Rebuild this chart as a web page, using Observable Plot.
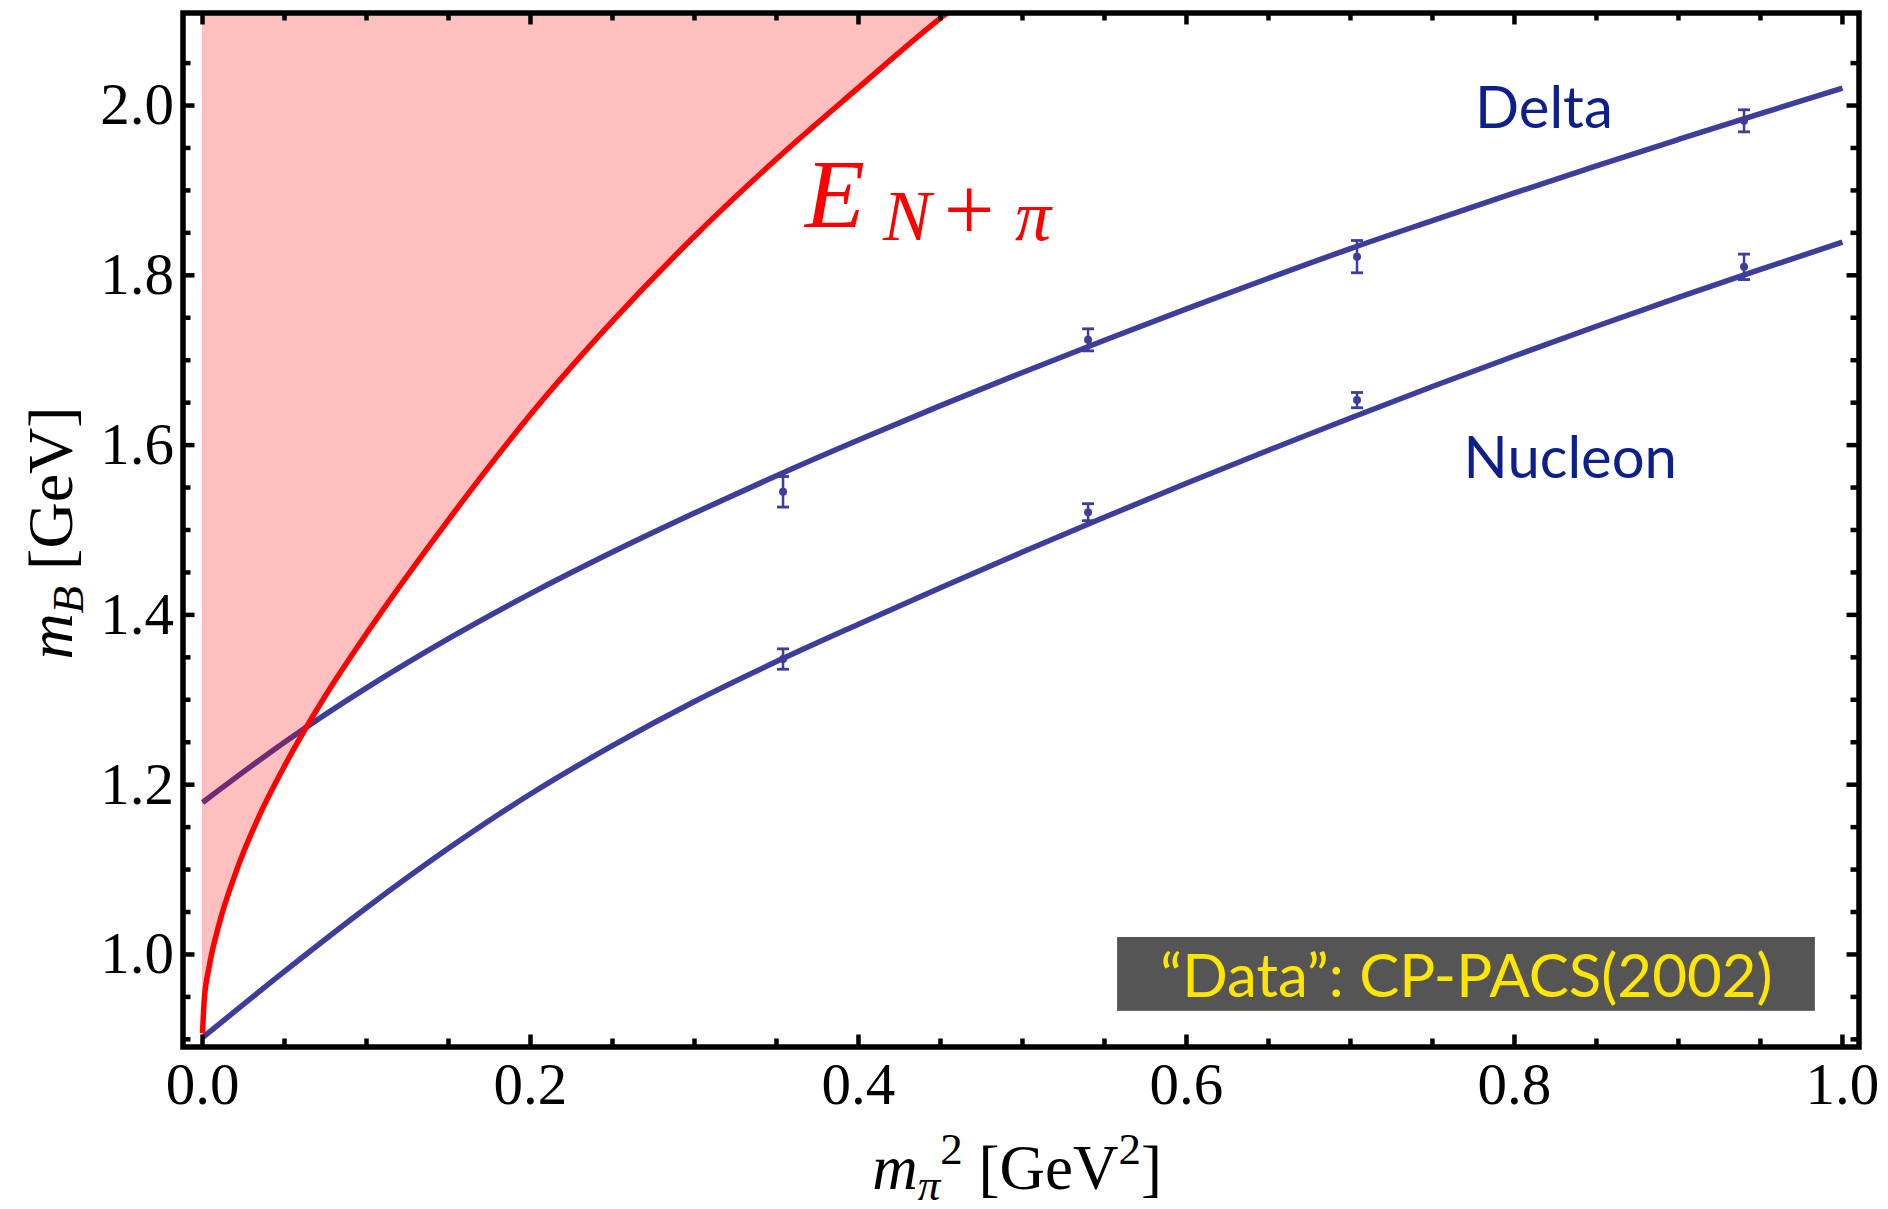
<!DOCTYPE html>
<html>
<head>
<meta charset="utf-8">
<script src="https://cdn.jsdelivr.net/npm/d3@7"></script>
<script src="https://cdn.jsdelivr.net/npm/@observablehq/plot@0.6"></script>
<style>
  html, body { margin: 0; padding: 0; background: #ffffff; }
  #chart svg { display: block; }
</style>
</head>
<body>
<div id="chart"></div>
<script>
// ---------- data ----------
const fitX = [0, 0.05, 0.10, 0.15, 0.20, 0.25, 0.30, 0.35, 0.40, 0.45, 0.50,
              0.55, 0.60, 0.65, 0.70, 0.75, 0.80, 0.85, 0.90, 0.95, 1.00];
const nucleonFit = [0.902, 0.980, 1.055, 1.125, 1.189, 1.246, 1.298, 1.345, 1.389, 1.432, 1.474,
                    1.515, 1.555, 1.594, 1.632, 1.669, 1.705, 1.740, 1.774, 1.807, 1.839];
const deltaFit = [1.179, 1.250, 1.314, 1.372, 1.425, 1.474, 1.520, 1.564, 1.606, 1.6465, 1.6855,
                  1.7235, 1.7605, 1.7965, 1.8315, 1.8645, 1.897, 1.929, 1.960, 1.9905, 2.0205];

const thresholdX = [0, 0.001, 0.004, 0.01, 0.02, 0.035, 0.05, 0.075, 0.10, 0.15, 0.20, 0.25, 0.30, 0.35, 0.40, 0.45, 0.46];
const thresholdY = [0.907, 0.945, 0.985, 1.035, 1.095, 1.165, 1.222, 1.305, 1.378, 1.512, 1.636, 1.746, 1.846, 1.937, 2.021, 2.103, 2.118];

const latticeX = [0.354, 0.540, 0.704, 0.940];
const deltaMass = [1.545, 1.724, 1.822, 1.982];
const deltaErr = [0.018, 0.013, 0.019, 0.013];
const nucleonMass = [1.348, 1.521, 1.653, 1.810];
const nucleonErr = [0.012, 0.010, 0.009, 0.015];

const xMajorTicks = [0, 0.2, 0.4, 0.6, 0.8, 1.0];
const xMinorTicks = [0.05, 0.1, 0.15, 0.25, 0.3, 0.35, 0.45, 0.5, 0.55, 0.65, 0.7, 0.75, 0.85, 0.9, 0.95];
const yMajorTicks = [1.0, 1.2, 1.4, 1.6, 1.8, 2.0];
const yMinorTicks = [0.9, 0.95, 1.05, 1.1, 1.15, 1.25, 1.3, 1.35, 1.45, 1.5, 1.55, 1.65, 1.7, 1.75, 1.85, 1.9, 1.95, 2.05];

const seriesLabels = ["Delta", "Nucleon"];
const seriesLabelX = [0.776, 0.769];
const seriesLabelY = [1.974, 1.561];

const sourceNote = "\u201CData\u201D: CP-PACS(2002)";
const sourceBox = {x1: 0.558, x2: 0.9835, y1: 0.933, y2: 1.020};
const sourceTextPos = {x: 0.7707, y: 0.9500};
const thresholdLabelPos = {x: 0.386, y: 1.8563};

// ---------- layout / style ----------
const W = 1888, H = 1209;
const mL = 182.5, mR = 29.5, mT = 12.5, mB = 162.5;
const innerW = W - mL - mR, innerH = H - mT - mB;
const blue = "#3d3d9c";
const labelBlue = "#0c1f8c";
const serif = "'Liberation Serif', 'Times New Roman', serif";
const sans = "Lato, 'Open Sans', sans-serif";
const majorLen = 12, minorLen = 8;
const lineW = 5.5;

const fitRows = fitX.map((x, i) => ({x, nucleon: nucleonFit[i], delta: deltaFit[i]}));
const thresholdRows = thresholdX.map((x, i) => ({x, y: thresholdY[i]}));
const latticeRows = latticeX.flatMap((x, i) => [
  {series: "Delta", x, m: deltaMass[i], lo: deltaMass[i] - deltaErr[i], hi: deltaMass[i] + deltaErr[i]},
  {series: "Nucleon", x, m: nucleonMass[i], lo: nucleonMass[i] - nucleonErr[i], hi: nucleonMass[i] + nucleonErr[i]}
]);

const capSymbol = {
  draw(context, size) {
    const r = Math.sqrt(size / Math.PI);
    context.moveTo(-r, 0);
    context.lineTo(r, 0);
  }
};

function tickMarksX(values, len) {
  return [
    Plot.tickX(values, {x: d => d, insetTop: innerH - len, stroke: "black", strokeWidth: 4.5}),
    Plot.tickX(values, {x: d => d, insetBottom: innerH - len, stroke: "black", strokeWidth: 4.5})
  ];
}
function tickMarksY(values, len) {
  return [
    Plot.tickY(values, {y: d => d, insetRight: innerW - len, stroke: "black", strokeWidth: 4.5}),
    Plot.tickY(values, {y: d => d, insetLeft: innerW - len, stroke: "black", strokeWidth: 4.5})
  ];
}

// threshold label E_{N+π}
function thresholdLabel(index, scales) {
  const x0 = scales.x(thresholdLabelPos.x), y0 = scales.y(thresholdLabelPos.y);
  const g = d3.create("svg:g").attr("fill", "#ff0000").attr("font-family", serif);
  g.append("text").attr("x", x0).attr("y", y0).attr("font-size", 98).attr("font-style", "italic").text("E");
  const sub = g.append("text").attr("y", y0 + 13).attr("font-size", 72);
  sub.append("tspan").attr("x", x0 + 72).attr("font-style", "italic").text("N");
  sub.append("tspan").attr("x", x0 + 134).attr("font-size", 90).text("+");
  sub.append("tspan").attr("x", x0 + 198).attr("font-style", "italic").text("\u03C0");
  return g.node();
}

// axis titles
function axisTitles() {
  const g = d3.create("svg:g").attr("fill", "black").attr("font-family", serif);
  const yl = g.append("text")
    .attr("transform", "translate(72,533) rotate(-90)")
    .attr("text-anchor", "middle").attr("font-size", 64);
  yl.append("tspan").attr("font-style", "italic").text("m");
  yl.append("tspan").attr("font-style", "italic").attr("font-size", 45).attr("dy", 11).text("B");
  yl.append("tspan").attr("dy", -11).text("\u00A0[GeV]");

  const xl = g.append("text")
    .attr("x", 1017).attr("y", 1189)
    .attr("text-anchor", "middle").attr("font-size", 63);
  xl.append("tspan").attr("font-style", "italic").text("m");
  xl.append("tspan").attr("font-style", "italic").attr("font-size", 45).attr("dy", 11).text("\u03C0");
  xl.append("tspan").attr("font-size", 45).attr("dy", -36).text("2");
  xl.append("tspan").attr("dy", 25).text("\u00A0[GeV");
  xl.append("tspan").attr("font-size", 45).attr("dy", -25).text("2");
  xl.append("tspan").attr("dy", 25).text("]");
  return g.node();
}

const chart = Plot.plot({
  width: W,
  height: H,
  marginLeft: mL,
  marginRight: mR,
  marginTop: mT,
  marginBottom: mB,
  style: {fontFamily: serif, fontSize: "58px", color: "black", background: "white", overflow: "visible"},
  x: {domain: [-0.0119, 1.0101], label: null},
  y: {domain: [0.891, 2.109], label: null},
  marks: [
    // fits
    Plot.line(fitRows, {x: "x", y: "delta", stroke: blue, strokeWidth: lineW, strokeLinecap: "butt", curve: "monotone-x", clip: true}),
    Plot.line(fitRows, {x: "x", y: "nucleon", stroke: blue, strokeWidth: lineW, strokeLinecap: "butt", curve: "monotone-x", clip: true}),
    // lattice points
    Plot.ruleX(latticeRows, {x: "x", y1: "lo", y2: "hi", stroke: blue, strokeWidth: 2.5}),
    Plot.dot(latticeRows, {x: "x", y: "hi", symbol: capSymbol, r: 6, stroke: blue, strokeWidth: 2.8, fill: "none"}),
    Plot.dot(latticeRows, {x: "x", y: "lo", symbol: capSymbol, r: 6, stroke: blue, strokeWidth: 2.8, fill: "none"}),
    Plot.dot(latticeRows, {x: "x", y: "m", r: 4, fill: blue, stroke: "none"}),
    // N + pi threshold region
    Plot.areaY(thresholdRows, {x: "x", y1: "y", y2: 2.3, fill: "#ff0000", fillOpacity: 0.25, curve: "monotone-x", clip: true}),
    Plot.line(thresholdRows, {x: "x", y: "y", stroke: "#ff0000", strokeWidth: lineW, strokeLinecap: "butt", curve: "monotone-x", clip: true}),
    // source note box
    Plot.rect([sourceBox], {x1: "x1", x2: "x2", y1: "y1", y2: "y2", fill: "#555555"}),
    Plot.text([sourceNote], {x: () => sourceTextPos.x, y: () => sourceTextPos.y, text: d => d,
      textAnchor: "middle", lineAnchor: "bottom", fontFamily: sans, fontSize: 60, fill: "#ffe600"}),
    // series labels
    Plot.text(seriesLabels, {x: (d, i) => seriesLabelX[i], y: (d, i) => seriesLabelY[i], text: d => d,
      textAnchor: "start", lineAnchor: "bottom", fontFamily: sans, fontSize: 58, fill: labelBlue}),
    thresholdLabel,
    // frame ticks (inward, all four sides)
    ...tickMarksX(xMajorTicks, majorLen),
    ...tickMarksX(xMinorTicks, minorLen),
    ...tickMarksY(yMajorTicks, majorLen),
    ...tickMarksY(yMinorTicks, minorLen),
    Plot.frame({stroke: "black", strokeWidth: 5.5}),
    // tick labels
    Plot.axisX(xMajorTicks, {anchor: "bottom", tickSize: 0, tickPadding: 15, tickFormat: d3.format(".1f"), label: null, fontSize: 59, fontFamily: serif}),
    Plot.axisY(yMajorTicks, {anchor: "left", tickSize: 0, tickPadding: 9, tickFormat: d3.format(".1f"), label: null, fontSize: 59, fontFamily: serif}),
    axisTitles
  ]
});

document.getElementById("chart").appendChild(chart);
</script>
</body>
</html>
